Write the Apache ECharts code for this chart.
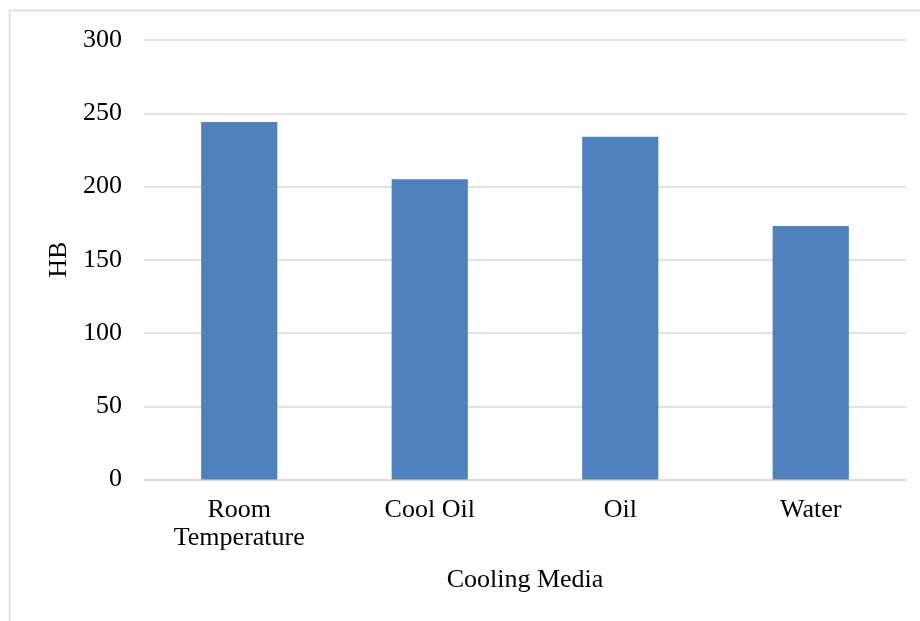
<!DOCTYPE html>
<html>
<head>
<meta charset="utf-8">
<title>HB by Cooling Media</title>
<script src="https://cdn.jsdelivr.net/npm/echarts@6/dist/echarts.min.js"></script>
<style>
  html, body { margin: 0; padding: 0; background: #ffffff; }
  #chart { width: 920px; height: 621px; }
</style>
</head>
<body>
<div id="chart"></div>
<script>
// Hardness (HB) for each cooling medium
const categories = ['Room\nTemperature', 'Cool Oil', 'Oil', 'Water'];
const hardness = [244, 205, 234, 173];
const yTicks = { min: 0, max: 300, interval: 50 };

const FONT = '"Liberation Serif", "Times New Roman", serif';
const GRID_GRAY = '#d9d9d9';

const chart = echarts.init(document.getElementById('chart'), null, { renderer: 'canvas' });

chart.setOption({
  backgroundColor: '#ffffff',
  animation: false,
  graphic: [{
    // chart frame, running off the right and bottom edges
    type: 'rect',
    shape: { x: 9.5, y: 10.5, width: 1000, height: 700 },
    style: { fill: 'none', stroke: GRID_GRAY, lineWidth: 1.5 },
    silent: true
  }],
  grid: { left: 144, right: 14, top: 40, bottom: 141.5, containLabel: false },
  xAxis: {
    type: 'category',
    data: categories,
    name: 'Cooling Media',
    nameLocation: 'middle',
    nameGap: 88,
    nameTextStyle: { fontFamily: FONT, fontSize: 26, color: '#000000' },
    axisLine: { show: true, lineStyle: { color: GRID_GRAY, width: 1.5 } },
    axisTick: { show: false },
    axisLabel: {
      fontFamily: FONT, fontSize: 26, color: '#000000',
      margin: 17, lineHeight: 28, interval: 0
    }
  },
  yAxis: {
    type: 'value',
    min: yTicks.min,
    max: yTicks.max,
    interval: yTicks.interval,
    name: 'HB',
    nameLocation: 'middle',
    nameGap: 70,
    nameRotate: 90,
    nameTextStyle: { fontFamily: FONT, fontSize: 26, color: '#000000' },
    axisLine: { show: false },
    axisTick: { show: false },
    axisLabel: { fontFamily: FONT, fontSize: 26, color: '#000000', margin: 22 },
    splitLine: { show: true, lineStyle: { color: GRID_GRAY, width: 1.5 } }
  },
  series: [{
    type: 'bar',
    data: hardness,
    barWidth: '40%',
    itemStyle: { color: '#4f81bd' }
  }]
});
</script>
</body>
</html>
